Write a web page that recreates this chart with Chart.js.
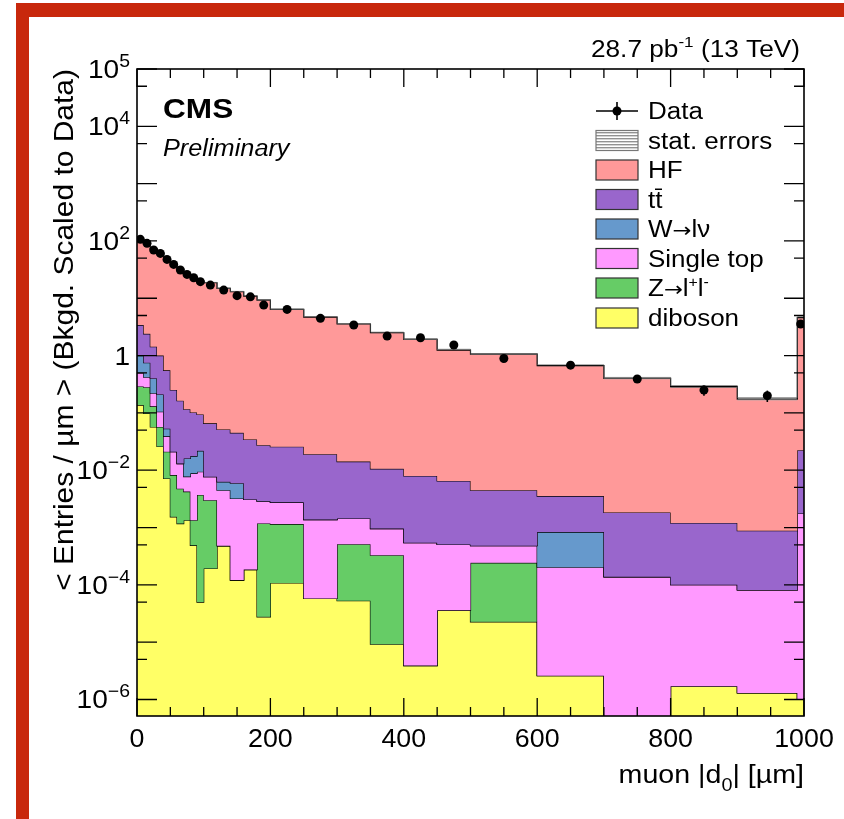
<!DOCTYPE html>
<html>
<head>
<meta charset="utf-8">
<script src="https://cdn.jsdelivr.net/npm/chart.js@4.4.0/dist/chart.umd.min.js"></script>
<style>
  html, body { margin: 0; padding: 0; background: #fff; }
  canvas { display: block; }
</style>
</head>
<body>
<canvas id="c" width="844" height="819"></canvas>
<script>
// bin edges in µm, the binning is not uniform
const binEdges = [0, 10, 20, 30, 40, 50, 60, 70, 80, 90, 100, 120, 140, 160, 180, 200, 250, 300, 350, 400, 450, 500, 600, 700, 800, 900, 990, 1000];

// background processes, <entries/µm> per bin
const diboson   = [0.137, 0.098, 0.057, 0.026, 0.0072, 0.00154, 0.00117, 0.00134, 0.00049, 0.00005, 0.000193, 0.00048, 0.000121, 0.000185, 0.0000277, 0.000108, 0.000058, 0.000053, 0.0000092, 0.0000039, 0.000036, 0.0000226, 0.0000026, 0, 0.0000017, 0.0000013, 0.000001];
const zll       = [0.153, 0.182, 0.073, 0.031, 0.0138, 0.0067, 0.0036, 0.0029, 0.00085, 0.00365, 0.0028, 0, 0, 0, 0.00115, 0.00104, 0, 0.00046, 0.00032, 0, 0, 0.00022, 0, 0, 0, 0, 0];
const singleTop = [0.21, 0.14, 0.09, 0.048, 0.018, 0.0128, 0.0083, 0.0035, 0.0075, 0.0057, 0.0047, 0.004, 0.0031, 0.0029, 0.0017, 0.0016, 0.00132, 0.00093, 0.00063, 0.00054, 0.00047, 0.00024, 0.0002, 0.000138, 0.000099, 0.00008, 0.00176];
const wlnu      = [0.5, 0.33, 0.18, 0.105, 0.014, 0, 0, 0.0083, 0.0088, 0.0124, 0, 0.0018, 0.0027, 0, 0, 0, 0, 0, 0, 0, 0, 0, 0.00063, 0, 0, 0, 0];
const ttbar     = [2.4, 1.65, 1.03, 0.79, 0.5, 0.23, 0.15, 0.1, 0.084, 0.072, 0.058, 0.045, 0.039, 0.0313, 0.0245, 0.0229, 0.0177, 0.0127, 0.0096, 0.0074, 0.006, 0.004, 0.0027, 0.0017, 0.0011, 0.0008, 0.0206];
const hf        = [100.6, 95.6, 70.6, 61, 48.5, 39.75, 31.8, 26.4, 22.9, 19.9, 18.6, 14.85, 12.95, 10.87, 9.27, 6.37, 4.68, 3.54, 2.49, 1.91, 1.24, 1.055, 0.666, 0.398, 0.285, 0.173, 4.58];
// relative stat. error of the summed background
const mcStatErr = [0.01, 0.01, 0.01, 0.01, 0.01, 0.012, 0.012, 0.013, 0.014, 0.015, 0.012, 0.014, 0.015, 0.016, 0.018, 0.015, 0.018, 0.02, 0.024, 0.027, 0.033, 0.025, 0.03, 0.04, 0.048, 0.06, 0.03];

// data
const dataVals = [106.6, 90.8, 69.4, 60.7, 47.7, 39.0, 31.1, 26.1, 22.8, 19.5, 17.0, 13.9, 11.1, 10.6, 7.6, 6.4, 4.46, 3.41, 2.19, 2.05, 1.53, 0.89, 0.68, 0.39, 0.25, 0.2, 3.55];
const dataErr  = [2.0, 1.9, 1.6, 1.5, 1.3, 1.2, 1.1, 1.0, 0.95, 0.9, 0.6, 0.55, 0.5, 0.48, 0.42, 0.18, 0.16, 0.14, 0.11, 0.1, 0.09, 0.05, 0.05, 0.035, 0.05, 0.045, 0.3];

// axis ticks
const xTickLabels = [0, 200, 400, 600, 800, 1000];
const xMinorStep = 50;
const yLabelExp = [5, 4, 2, 0, -2, -4, -6];
const yMin = 5.15e-7, yMax = 1e5;

const colors = {
  diboson: '#ffff66', zll: '#66cc66', singleTop: '#ff99ff',
  wlnu: '#6699cc', ttbar: '#9966cc', hf: '#ff9999'
};

const FONT = '"Liberation Sans", Arial, Helvetica, sans-serif';
const SX = 1.13; // the original text is set a bit wider than Liberation Sans

// histogram as stepped points on left edges + closing point at the last edge
// (empty bins are pushed below the axis, the log scale can't take 0)
function histPoints(vals) {
  const pts = vals.map((v, i) => ({ x: binEdges[i], y: Math.max(v, yMin / 10) }));
  pts.push({ x: binEdges[binEdges.length - 1], y: pts[pts.length - 1].y });
  return pts;
}

// stack cumulative sums, bottom to top
const layers = [
  { label: 'diboson', vals: diboson, color: colors.diboson },
  { label: 'Z→l+l-', vals: zll, color: colors.zll },
  { label: 'Single top', vals: singleTop, color: colors.singleTop },
  { label: 'W→lν', vals: wlnu, color: colors.wlnu },
  { label: 'tt̄', vals: ttbar, color: colors.ttbar },
  { label: 'HF', vals: hf, color: colors.hf }
];
let running = diboson.map(() => 0);
const stackSets = layers.map((l, k) => {
  running = running.map((r, i) => r + l.vals[i]);
  return {
    label: l.label,
    data: histPoints(running.slice()),
    backgroundColor: l.color,
    borderColor: '#000',
    borderWidth: 1.2,
    stepped: 'before',
    pointRadius: 0,
    fill: k === 0 ? 'start' : '-1',
    order: 10 - k
  };
});
const total = running.slice();

// hatch pattern for the stat. band
function hatch() {
  const pc = document.createElement('canvas');
  pc.width = 4; pc.height = 3;
  const g = pc.getContext('2d');
  g.fillStyle = 'rgba(110,110,110,0.75)';
  g.fillRect(0, 0, 4, 1);
  g.fillStyle = 'rgba(170,170,170,0.5)';
  g.fillRect(0, 1, 4, 1);
  return g.createPattern(pc, 'repeat');
}
const hatchPat = hatch();

const statLo = {
  label: 'statLo', data: histPoints(total.map((t, i) => t * (1 - mcStatErr[i]))),
  borderWidth: 0, borderColor: 'rgba(0,0,0,0)', stepped: 'before', pointRadius: 0, fill: false, order: 2
};
const statHi = {
  label: 'stat. errors', data: histPoints(total.map((t, i) => t * (1 + mcStatErr[i]))),
  borderWidth: 0.8, borderColor: 'rgba(90,90,90,0.8)', backgroundColor: hatchPat,
  stepped: 'before', pointRadius: 0, fill: '-1', order: 1
};

const centers = dataVals.map((v, i) => (binEdges[i] + binEdges[i + 1]) / 2);
const dataSet = {
  label: 'Data', data: dataVals.map((v, i) => ({ x: centers[i], y: v })),
  showLine: false, pointRadius: 4.5, pointBackgroundColor: '#000', pointBorderColor: '#000',
  pointBorderWidth: 0, fill: false, order: 0
};

// draw a row of text pieces (for super/subscripts), sx stretches horizontally
function runs(ctx, parts, x, y, align, sx) {
  sx = sx || SX;
  let w = 0;
  parts.forEach(p => {
    ctx.font = (p.style || '') + ' ' + p.size + 'px ' + (p.family || FONT);
    p.w = ctx.measureText(p.t).width * sx;
    w += p.w;
  });
  let cx = align === 'right' ? x - w : align === 'center' ? x - w / 2 : x;
  ctx.textAlign = 'left';
  ctx.textBaseline = 'alphabetic';
  parts.forEach(p => {
    ctx.font = (p.style || '') + ' ' + p.size + 'px ' + (p.family || FONT);
    ctx.save();
    ctx.translate(cx, y + (p.dy || 0));
    ctx.scale(sx, 1);
    ctx.fillText(p.t, 0, 0);
    ctx.restore();
    cx += p.w;
  });
}

const decor = {
  id: 'decor',
  beforeDraw(chart) {
    const ctx = chart.ctx;
    ctx.save();
    ctx.fillStyle = '#fff';
    ctx.fillRect(0, 0, chart.width, chart.height);
    // red frame of the figure
    ctx.fillStyle = '#c8280c';
    ctx.fillRect(16, 3, chart.width - 16, 14);
    ctx.fillRect(16, 3, 13, chart.height - 3);
    ctx.restore();
  },
  afterDatasetsDraw(chart) {
    const ctx = chart.ctx;
    const xs = chart.scales.x, ys = chart.scales.y;
    // data error bars
    ctx.save();
    ctx.strokeStyle = '#000';
    ctx.lineWidth = 1.6;
    dataVals.forEach((v, i) => {
      const px = xs.getPixelForValue(centers[i]);
      ctx.beginPath();
      ctx.moveTo(px, ys.getPixelForValue(v + dataErr[i]));
      ctx.lineTo(px, ys.getPixelForValue(Math.max(v - dataErr[i], yMin)));
      ctx.stroke();
    });
    ctx.restore();
  },
  afterDraw(chart) {
    const ctx = chart.ctx;
    const a = chart.chartArea;
    const xs = chart.scales.x, ys = chart.scales.y;
    ctx.save();
    ctx.strokeStyle = '#000';
    ctx.fillStyle = '#000';
    // frame
    ctx.lineWidth = 1.6;
    ctx.strokeRect(a.left, a.top, a.right - a.left, a.bottom - a.top);
    // x ticks (bottom and top, inward)
    ctx.lineWidth = 1.3;
    for (let v = xs.min; v <= xs.max; v += xMinorStep) {
      const px = xs.getPixelForValue(v);
      const len = v % 200 === 0 ? 18 : 9;
      ctx.beginPath();
      ctx.moveTo(px, a.bottom); ctx.lineTo(px, a.bottom - len);
      ctx.moveTo(px, a.top); ctx.lineTo(px, a.top + len);
      ctx.stroke();
    }
    // y ticks (left and right, inward)
    for (let e = -7; e <= 5; e++) {
      [[Math.pow(10, e), 20], [5 * Math.pow(10, e - 1), 10]].forEach(([v, len]) => {
        if (v < ys.min || v > ys.max) return;
        const py = ys.getPixelForValue(v);
        ctx.beginPath();
        ctx.moveTo(a.left, py); ctx.lineTo(a.left + len, py);
        ctx.moveTo(a.right, py); ctx.lineTo(a.right - len, py);
        ctx.stroke();
      });
    }
    // x tick labels
    xTickLabels.forEach(v => {
      runs(ctx, [{ t: String(v), size: 26 }], xs.getPixelForValue(v), 747, 'center', 1.03);
    });
    // y tick labels
    yLabelExp.forEach(e => {
      const py = ys.getPixelForValue(Math.pow(10, e));
      const parts = e === 0 ? [{ t: '1', size: 26 }]
        : [{ t: '10', size: 26 }, { t: (e < 0 ? '\u2212' : '') + Math.abs(e), size: 18, dy: -11 }];
      runs(ctx, parts, a.left - 7, py + 9, 'right', 1.08);
    });
    // axis titles
    runs(ctx, [{ t: 'muon |d', size: 26 }, { t: '0', size: 18, dy: 8 }, { t: '| [\u00b5m]', size: 26 }], a.right, 783, 'right', 1.1);
    ctx.save();
    ctx.translate(73, a.top);
    ctx.rotate(-Math.PI / 2);
    runs(ctx, [{ t: '< Entries / \u00b5m > (Bkgd. Scaled to Data)', size: 28 }], 0, 0, 'right', 1.07);
    ctx.restore();
    // CMS labels
    runs(ctx, [{ t: 'CMS', size: 27, style: 'bold' }], 163, 118, 'left', 1.17);
    runs(ctx, [{ t: 'Preliminary', size: 23, style: 'italic' }], 163, 156, 'left', 1.1);
    runs(ctx, [{ t: '28.7 pb', size: 23 }, { t: '-1', size: 15, dy: -10 }, { t: ' (13 TeV)', size: 23 }], 800, 57, 'right', 1.14);

    // legend
    const lx = 596, bw = 42, bh = 20, tx = 648;
    const rowY = [111, 140.5, 170, 199.5, 229, 258.5, 288, 318];
    ctx.lineWidth = 1.6;
    ctx.beginPath();
    ctx.moveTo(lx, rowY[0]); ctx.lineTo(lx + bw, rowY[0]);
    ctx.moveTo(lx + bw / 2, rowY[0] - 9); ctx.lineTo(lx + bw / 2, rowY[0] + 9);
    ctx.stroke();
    ctx.beginPath();
    ctx.arc(lx + bw / 2, rowY[0], 4.5, 0, Math.PI * 2);
    ctx.fill();
    const boxes = [
      { fill: hatchPat, edge: '#777' },
      { fill: colors.hf }, { fill: colors.ttbar }, { fill: colors.wlnu },
      { fill: colors.singleTop }, { fill: colors.zll }, { fill: colors.diboson }
    ];
    boxes.forEach((b, i) => {
      const cy = rowY[i + 1];
      ctx.fillStyle = '#fff';
      ctx.fillRect(lx, cy - bh / 2, bw, bh);
      ctx.fillStyle = b.fill;
      ctx.fillRect(lx, cy - bh / 2, bw, bh);
      ctx.strokeStyle = b.edge || '#333';
      ctx.lineWidth = 1.2;
      ctx.strokeRect(lx, cy - bh / 2, bw, bh);
    });
    ctx.fillStyle = '#000';
    const base = 8;
    const arrow = { t: '\u2192', size: 20, family: '"DejaVu Sans", sans-serif' };
    runs(ctx, [{ t: 'Data', size: 23 }], tx, rowY[0] + base, 'left');
    runs(ctx, [{ t: 'stat. errors', size: 23 }], tx, rowY[1] + base, 'left');
    runs(ctx, [{ t: 'HF', size: 23 }], tx, rowY[2] + base, 'left');
    runs(ctx, [{ t: 'tt\u0304', size: 23 }], tx, rowY[3] + base, 'left');
    runs(ctx, [{ t: 'W', size: 23 }, arrow, { t: 'l\u03bd', size: 23 }], tx, rowY[4] + base, 'left');
    runs(ctx, [{ t: 'Single top', size: 23 }], tx, rowY[5] + base, 'left');
    runs(ctx, [{ t: 'Z', size: 23 }, arrow, { t: 'l', size: 23 }, { t: '+', size: 14, dy: -9 }, { t: 'l', size: 23 }, { t: '-', size: 14, dy: -9 }], tx, rowY[6] + base, 'left');
    runs(ctx, [{ t: 'diboson', size: 23 }], tx, rowY[7] + base, 'left');
    ctx.restore();
  }
};

new Chart(document.getElementById('c'), {
  type: 'line',
  data: { datasets: [...stackSets, statLo, statHi, dataSet] },
  options: {
    responsive: false,
    animation: false,
    events: [],
    layout: { padding: { left: 137, top: 69, right: 40, bottom: 103 } },
    plugins: { legend: { display: false }, tooltip: { enabled: false } },
    scales: {
      x: { type: 'linear', min: 0, max: 1000, bounds: 'data', display: false },
      y: { type: 'logarithmic', min: yMin, max: yMax, bounds: 'data', display: false }
    }
  },
  plugins: [decor]
});
</script>
</body>
</html>
